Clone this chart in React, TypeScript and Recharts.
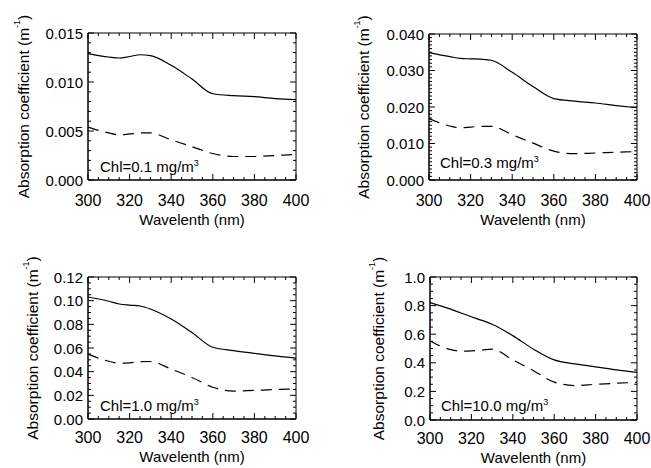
import React from 'react';
import { LineChart, Line, XAxis, YAxis, ReferenceArea } from 'recharts';

// wavelength grid (nm) shared by every curve
const wavelength = [300, 310, 315, 320, 325, 330, 340, 350, 360, 370, 380, 390, 400];

// Chl = 0.1 mg/m3
const solid01 = [0.0129, 0.01255, 0.01245, 0.0126, 0.01278, 0.0127, 0.0117, 0.0103, 0.0088, 0.0086, 0.0085, 0.0083, 0.0082];
const dashed01 = [0.0054, 0.0048, 0.0046, 0.0047, 0.0048, 0.0048, 0.0041, 0.0034, 0.0027, 0.0024, 0.0024, 0.0025, 0.0026];
// Chl = 0.3 mg/m3
const solid03 = [0.0349, 0.0338, 0.0333, 0.0332, 0.0331, 0.0328, 0.0295, 0.0256, 0.0223, 0.0216, 0.0211, 0.0204, 0.0198];
const dashed03 = [0.0168, 0.0148, 0.0143, 0.0145, 0.0147, 0.0147, 0.0124, 0.0101, 0.0079, 0.0072, 0.0074, 0.0076, 0.0078];
// Chl = 1.0 mg/m3
const solid10 = [0.1031, 0.0995, 0.0972, 0.0962, 0.0955, 0.093, 0.0845, 0.0731, 0.0606, 0.0578, 0.0555, 0.0533, 0.0515];
const dashed10 = [0.0548, 0.0488, 0.0472, 0.0475, 0.0485, 0.0486, 0.0422, 0.0351, 0.0268, 0.0235, 0.0242, 0.0249, 0.0254];
// Chl = 10.0 mg/m3
const solid100 = [0.821, 0.775, 0.748, 0.722, 0.697, 0.67, 0.59, 0.495, 0.42, 0.392, 0.372, 0.35, 0.333];
const dashed100 = [0.553, 0.492, 0.482, 0.484, 0.489, 0.495, 0.42, 0.345, 0.265, 0.241, 0.25, 0.257, 0.263];

const xTicks = [300, 320, 340, 360, 380, 400];
const yTicks01 = [0, 0.005, 0.01, 0.015];
const yTicks03 = [0, 0.01, 0.02, 0.03, 0.04];
const yTicks10 = [0, 0.02, 0.04, 0.06, 0.08, 0.1, 0.12];
const yTicks100 = [0, 0.2, 0.4, 0.6, 0.8, 1.0];
const chlLabels = ['0.1', '0.3', '1.0', '10.0'];

const FONT = '"Liberation Sans", Arial, Helvetica, sans-serif';
const MAJOR = 6;
const MINOR = 3;

// minor tick positions between min and max
function steps(min: number, max: number, step: number) {
  const out: number[] = [];
  const n = Math.round((max - min) / step);
  for (let i = 0; i <= n; i++) out.push(+(min + i * step).toFixed(6));
  return out;
}

const isIn = (arr: number[], v: number) => arr.some((t) => Math.abs(t - v) < 1e-9);

interface PanelProps {
  solid: number[];
  dashed: number[];
  yTicks: number[];
  yMinor: number;
  digits: number;
  chl: string;
  pos: { x: number; y: number; w: number; h: number };
  box: { l: number; t: number; r: number; b: number };
  titleOffset: number;
  xLabelGap: number;
  xTitleGap: number;
  chlDx: number;
  chlDy: number;
}

function Panel({ solid, dashed, yTicks, yMinor, digits, chl, pos, box, titleOffset, xLabelGap, xTitleGap, chlDx, chlDy }: PanelProps) {
  const data = wavelength.map((wl, i) => ({ wl, solid: solid[i], dashed: dashed[i] }));
  const yMax = yTicks[yTicks.length - 1];
  const xAll = steps(300, 400, 5);
  const yAll = steps(0, yMax, yMinor);
  const cy = (box.t + box.b) / 2;
  const cx = (box.l + box.r) / 2;

  // IDL style: inward ticks on all four sides, labels only on majors
  const XTick = (props: any) => {
    const { x, payload } = props;
    const v = payload.value;
    const major = isIn(xTicks, v);
    const len = major ? MAJOR : MINOR;
    return (
      <g>
        <line x1={x} x2={x} y1={box.b} y2={box.b - len} stroke="#000" />
        <line x1={x} x2={x} y1={box.t} y2={box.t + len} stroke="#000" />
        {major && (
          <text x={x} y={box.b + xLabelGap} textAnchor="middle" dominantBaseline="central" fontSize={16} fontFamily={FONT} fill="#000">
            {v}
          </text>
        )}
      </g>
    );
  };

  const YTick = (props: any) => {
    const { y, payload } = props;
    const v = payload.value;
    const major = isIn(yTicks, v);
    const len = major ? MAJOR : MINOR;
    return (
      <g>
        <line x1={box.l} x2={box.l + len} y1={y} y2={y} stroke="#000" />
        <line x1={box.r} x2={box.r - len} y1={y} y2={y} stroke="#000" />
        {major && (
          <text x={box.l - 5} y={y} textAnchor="end" dominantBaseline="central" fontSize={15} fontFamily={FONT} fill="#000">
            {v.toFixed(digits)}
          </text>
        )}
      </g>
    );
  };

  const yTitle = () => (
    <text
      x={box.l - titleOffset}
      y={cy}
      transform={`rotate(-90 ${box.l - titleOffset} ${cy})`}
      textAnchor="middle"
      dominantBaseline="central"
      fontSize={15.5}
      fontFamily={FONT}
      fill="#000"
    >
      Absorption coefficient (m
      <tspan dy={-6} fontSize={9}>-1</tspan>
      <tspan dy={6}>)</tspan>
    </text>
  );

  const xTitle = () => (
    <text x={cx} y={box.b + xTitleGap} textAnchor="middle" fontSize={15} fontFamily={FONT} fill="#000">
      Wavelenth (nm)
    </text>
  );

  return (
    <div style={{ position: 'absolute', left: pos.x, top: pos.y, width: pos.w, height: pos.h }}>
      <LineChart
        width={pos.w}
        height={pos.h}
        data={data}
        margin={{ top: box.t, right: pos.w - box.r, bottom: 0, left: 0 }}
      >
        <XAxis
          dataKey="wl"
          type="number"
          domain={[300, 400]}
          ticks={xAll}
          interval={0}
          height={pos.h - box.b}
          stroke="#000"
          tickLine={false}
          tick={<XTick />}
          label={xTitle}
        />
        <YAxis
          type="number"
          domain={[0, yMax]}
          ticks={yAll}
          interval={0}
          width={box.l}
          stroke="#000"
          tickLine={false}
          tick={<YTick />}
          label={yTitle}
        />
        <ReferenceArea x1={300} x2={400} y1={0} y2={yMax} fill="none" stroke="#000" strokeWidth={1} />

        <Line type="monotone" dataKey="solid" stroke="#000" strokeWidth={1.2} dot={false} isAnimationActive={false} />
        <Line type="monotone" dataKey="dashed" stroke="#000" strokeWidth={1.2} strokeDasharray="11 7" dot={false} isAnimationActive={false} />
      </LineChart>
      <div
        style={{
          position: 'absolute',
          left: box.l + chlDx,
          top: box.b - chlDy - 13,
          fontSize: 15,
          lineHeight: '15px',
          fontFamily: FONT,
          color: '#000',
          whiteSpace: 'nowrap',
        }}
      >
        Chl={chl} mg/m<sup style={{ fontSize: 9, verticalAlign: 'top', position: 'relative', top: -3 }}>3</sup>
      </div>
    </div>
  );
}

export default function App() {
  return (
    <div style={{ position: 'absolute', left: 0, top: 0, width: 651, height: 468, background: '#fff', overflow: 'hidden' }}>
      <Panel
        solid={solid01}
        dashed={dashed01}
        yTicks={yTicks01}
        yMinor={0.001}
        digits={3}
        chl={chlLabels[0]}
        pos={{ x: 0, y: 0, w: 325, h: 234 }}
        box={{ l: 88, t: 33, r: 296, b: 180 }}
        titleOffset={65}
        xLabelGap={20}
        xTitleGap={45}
        chlDx={12}
        chlDy={8}
      />
      <Panel
        solid={solid03}
        dashed={dashed03}
        yTicks={yTicks03}
        yMinor={0.001}
        digits={3}
        chl={chlLabels[1]}
        pos={{ x: 325, y: 0, w: 326, h: 234 }}
        box={{ l: 104, t: 34, r: 312, b: 180 }}
        titleOffset={66}
        xLabelGap={20}
        xTitleGap={45}
        chlDx={11}
        chlDy={12}
      />
      <Panel
        solid={solid10}
        dashed={dashed10}
        yTicks={yTicks10}
        yMinor={0.005}
        digits={2}
        chl={chlLabels[2]}
        pos={{ x: 0, y: 234, w: 325, h: 234 }}
        box={{ l: 88, t: 43, r: 296, b: 185 }}
        titleOffset={56}
        xLabelGap={18}
        xTitleGap={43}
        chlDx={12}
        chlDy={8}
      />
      <Panel
        solid={solid100}
        dashed={dashed100}
        yTicks={yTicks100}
        yMinor={0.05}
        digits={1}
        chl={chlLabels[3]}
        pos={{ x: 325, y: 234, w: 326, h: 234 }}
        box={{ l: 105, t: 43, r: 312, b: 186 }}
        titleOffset={52}
        xLabelGap={18}
        xTitleGap={43}
        chlDx={11}
        chlDy={9}
      />
    </div>
  );
}
